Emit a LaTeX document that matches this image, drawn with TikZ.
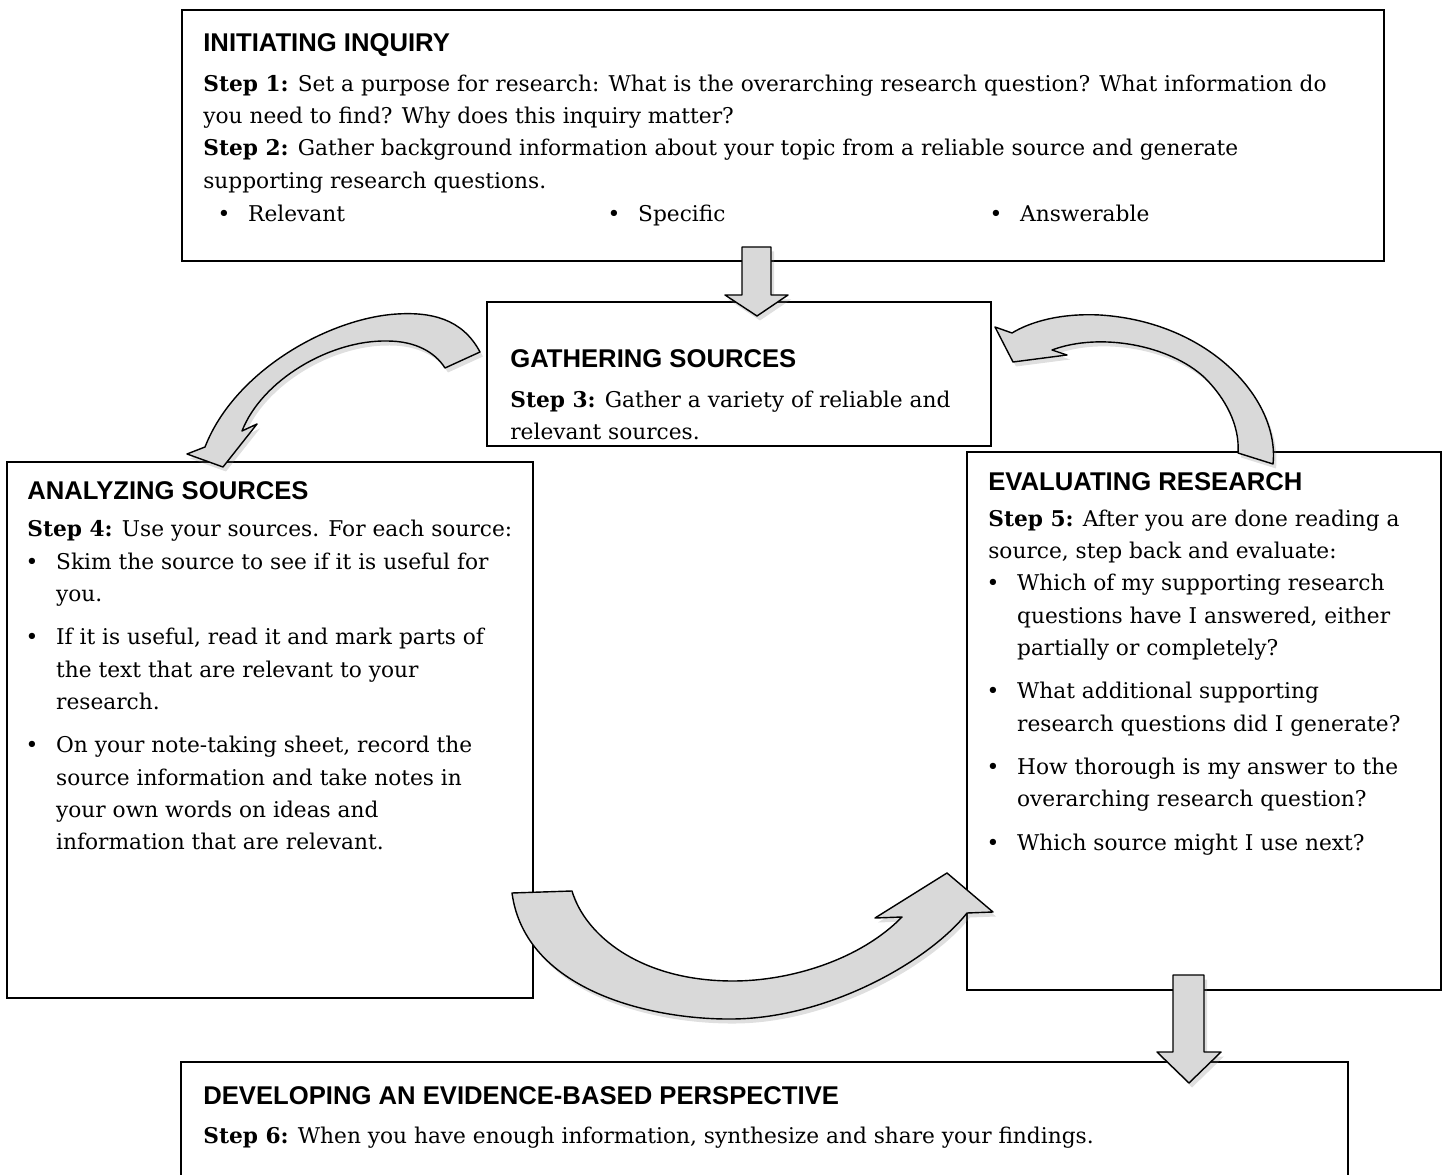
\documentclass[tikz,border=0pt]{standalone}
\usepackage{fontspec}
\setmainfont{DejaVu Serif}
\newfontfamily\headfont{Liberation Sans}
\usetikzlibrary{shadows,fit}

\definecolor{arrowgray}{RGB}{217,217,217}
\newcommand{\hd}[1]{{\headfont\bfseries\fontsize{14.6}{18.43}\selectfont #1}}
\newcommand{\itm}{\makebox[16.4pt][l]{\hspace{-1pt}\textbullet}}
\newcommand{\hang}{\hspace*{16.4pt}}

\begin{document}
\begin{tikzpicture}[x = 0.02cm, y = -0.02cm,
    box/.style = {draw, line width=1.1pt, inner sep=0pt},
    txt/.style = {anchor=base west, inner sep=0pt, font=\fontsize{12.35}{18.43}\selectfont},
    fatarrow/.style = {fill=arrowgray, draw=black, line width=0.8pt, line join=round,
        drop shadow={opacity=0.25, shadow xshift=0.06cm, shadow yshift=-0.09cm}}]

    \useasboundingbox (0,0) rectangle (1451,1175);

    % boxes
    \node[box, fit={(182,10) (1384,261)}] (init) {};
    \node[box, fit={(487,302) (991,446)}] (gather) {};
    \node[box, fit={(7,462) (533,998)}] (analyze) {};
    \node[box, fit={(967,452) (1441,990)}] (evaluate) {};
    \node[box, fit={(181,1062) (1348,1200)}] (develop) {};

    % texts
    \node[txt] (inittext) at (203,52) {\begin{tabular}[t]{@{}l@{}}
        \hd{INITIATING INQUIRY}\\[3.8pt]
        \textbf{Step 1:} Set a purpose for research: What is the overarching research question? What information do\\
        you need to find? Why does this inquiry matter?\\
        \textbf{Step 2:} Gather background information about your topic from a reliable source and generate\\
        supporting research questions.
    \end{tabular}};
    \node[txt] (relevant) at (219,222) {\itm Relevant};
    \node[txt] (specific) at (609,222) {\itm Specific};
    \node[txt] (answerable) at (991,222) {\itm Answerable};

    \node[txt] (gathertext) at (510,368) {\begin{tabular}[t]{@{}l@{}}
        \hd{GATHERING SOURCES}\\[3.8pt]
        \textbf{Step 3:} Gather a variety of reliable and\\
        relevant sources.
    \end{tabular}};

    \node[txt] (analyzetext) at (27,500) {\begin{tabular}[t]{@{}l@{}}
        \hd{ANALYZING SOURCES}\\[2.5pt]
        \textbf{Step 4:} Use your sources. For each source:\\
        \itm Skim the source to see if it is useful for\\
        \hang you.\\[6.2pt]
        \itm If it is useful, read it and mark parts of\\
        \hang the text that are relevant to your\\
        \hang research.\\[6.2pt]
        \itm On your note-taking sheet, record the\\
        \hang source information and take notes in\\
        \hang your own words on ideas and\\
        \hang information that are relevant.
    \end{tabular}};

    \node[txt] (evaltext) at (988,491) {\begin{tabular}[t]{@{}l@{}}
        \hd{EVALUATING RESEARCH}\\[1.5pt]
        \textbf{Step 5:} After you are done reading a\\
        source, step back and evaluate:\\
        \itm Which of my supporting research\\
        \hang questions have I answered, either\\
        \hang partially or completely?\\[6.2pt]
        \itm What additional supporting\\
        \hang research questions did I generate?\\[6.2pt]
        \itm How thorough is my answer to the\\
        \hang overarching research question?\\[6.2pt]
        \itm Which source might I use next?
    \end{tabular}};

    \node[txt] (developtext) at (203,1104) {\begin{tabular}[t]{@{}l@{}}
        \hd{DEVELOPING AN EVIDENCE-BASED PERSPECTIVE}\\[3.8pt]
        \textbf{Step 6:} When you have enough information, synthesize and share your findings.
    \end{tabular}};

    % straight arrows
    \draw[fatarrow] (742,247) -- (771,247) -- (771,295) -- (788,295) -- (757,316)
        -- (725,295) -- (742,295) -- cycle;
    \draw[fatarrow] (1173,975) -- (1204,975) -- (1204,1052) -- (1221,1052) -- (1189,1083)
        -- (1157,1052) -- (1173,1052) -- cycle;

    % curved arrows
    \draw[fatarrow] (480,352) .. controls (462,318) and (430,312) .. (397,314)
        .. controls (330,318) and (235,370) .. (205,447)
        -- (187,454) -- (223,467) -- (257,424) -- (242,431)
        .. controls (262,380) and (330,340) .. (387,341)
        .. controls (415,341) and (435,352) .. (445,368) -- cycle;
    \draw[fatarrow] (1273,464) .. controls (1280,400) and (1210,322) .. (1100,315)
        .. controls (1060,313) and (1030,322) .. (1012,333)
        -- (995,327) -- (1013,362) -- (1067,355) -- (1052,350)
        .. controls (1100,332) and (1170,345) .. (1205,378)
        .. controls (1225,398) and (1240,425) .. (1238,453) -- cycle;
    \draw[fatarrow] (512,893) .. controls (525,990) and (650,1020) .. (733,1019)
        .. controls (830,1018) and (930,960) .. (967,913)
        -- (993,912) -- (947,873) -- (875,918) -- (902,917)
        .. controls (860,960) and (790,981) .. (733,981)
        .. controls (640,981) and (585,935) .. (572,891) -- cycle;

\end{tikzpicture}
\end{document}
